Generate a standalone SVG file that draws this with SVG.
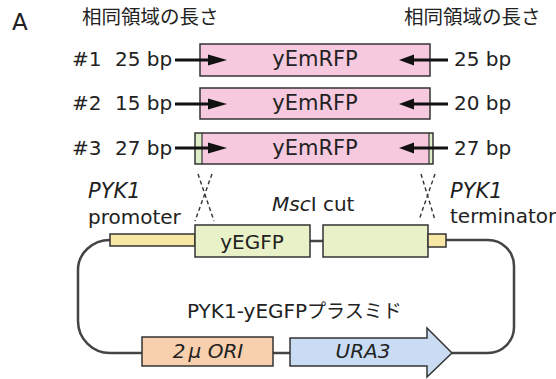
<svg xmlns="http://www.w3.org/2000/svg" width="556" height="379" viewBox="0 0 556 379">
<style>
text{font-family:"DejaVu Sans","Noto Sans CJK JP",sans-serif;fill:#222;font-size:20px}
.jp{font-family:"Noto Sans CJK JP",sans-serif;font-size:19.5px}
.it{font-style:italic}
.box{stroke:#333;stroke-width:1.5}
.pink{fill:#f6c9de}
.green{fill:#dcedc8}
.lgreen{fill:#e8f1c8}
.yellow{fill:#f8e7a4}
.peach{fill:#f9d0ad}
.blue{fill:#c9dcf3}
.arr{stroke:#111;stroke-width:3;fill:none}
.head{fill:#111}
.dash{stroke:#333;stroke-width:1.4;stroke-dasharray:4 3;fill:none}
.bb{stroke:#444;stroke-width:2.5;fill:none}
</style>
<rect width="556" height="379" fill="#fff"/>
<g id="title">
<text x="12" y="30" style="font-size:23px">A</text>
<text class="jp" x="82" y="24">相同領域の長さ</text>
<text class="jp" x="404" y="24">相同領域の長さ</text>
</g>
<g id="row1">
<text x="72" y="66">#1</text>
<text x="115" y="66">25 bp</text>
<rect class="box pink" x="200" y="44" width="230" height="32"/>
<text x="315" y="66" text-anchor="middle" style="font-size:21px">yEmRFP</text>
<text x="454" y="66">25 bp</text>
</g>
<g id="row2">
<text x="72" y="110">#2</text>
<text x="115" y="110">15 bp</text>
<rect class="box pink" x="200" y="88" width="230" height="31"/>
<text x="315" y="110" text-anchor="middle" style="font-size:21px">yEmRFP</text>
<text x="454" y="110">20 bp</text>
</g>
<g id="row3">
<text x="72" y="155">#3</text>
<text x="115" y="155">27 bp</text>
<rect class="green" x="195" y="133" width="7" height="31"/>
<rect class="pink" x="202" y="133" width="227" height="31"/>
<rect class="green" x="429" y="133" width="4" height="31"/>
<rect class="box" fill="none" x="195" y="133" width="238" height="31"/>
<line x1="202" y1="133" x2="202" y2="164" stroke="#333" stroke-width="1.2"/>
<line x1="429" y1="133" x2="429" y2="164" stroke="#333" stroke-width="1.2"/>
<text x="315" y="155" text-anchor="middle" style="font-size:21px">yEmRFP</text>
<text x="454" y="155">27 bp</text>
</g>
<g id="labels">
<text class="it" x="88" y="198" style="font-size:21px">PYK1</text>
<text x="88" y="224">promoter</text>
<text x="272" y="211"><tspan class="it">Msc</tspan>I cut</text>
<text class="it" x="450" y="198" style="font-size:21px">PYK1</text>
<text x="450" y="223">terminator</text>
<text x="187" y="318" style="font-size:20px">PYK1-yEGFP<tspan style="font-family:'Noto Sans CJK JP',sans-serif;font-size:19px">プラスミド</tspan></text>
</g>
<g id="connectors">
<path class="bb" d="M110,240 A32,30 0 0 0 78,270 V321 A32,32 0 0 0 110,353 H142"/>
<path class="bb" d="M446,240 H488 A26,26 0 0 1 514,266 V327 A26,26 0 0 1 488,353 H452"/>
<line class="bb" x1="310" y1="241" x2="323" y2="241"/>
<line class="bb" x1="273" y1="353" x2="290" y2="353"/>
<line class="dash" x1="198" y1="174" x2="214" y2="221"/>
<line class="dash" x1="212" y1="174" x2="195" y2="221"/>
<line class="dash" x1="421" y1="174" x2="435" y2="220"/>
<line class="dash" x1="435" y1="174" x2="419" y2="220"/>
<line class="arr" x1="175" y1="60" x2="210" y2="60"/>
<polygon class="head" points="208,54.5 227,60 208,65.5"/>
<line class="arr" x1="412" y1="60" x2="448" y2="60"/>
<polygon class="head" points="414,54.5 399,60 414,65.5"/>
<line class="arr" x1="175" y1="104" x2="210" y2="104"/>
<polygon class="head" points="208,98.5 227,104 208,109.5"/>
<line class="arr" x1="412" y1="104" x2="448" y2="104"/>
<polygon class="head" points="414,98.5 399,104 414,109.5"/>
<line class="arr" x1="175" y1="148" x2="210" y2="148"/>
<polygon class="head" points="208,142.5 227,148 208,153.5"/>
<line class="arr" x1="412" y1="148" x2="448" y2="148"/>
<polygon class="head" points="414,142.5 399,148 414,153.5"/>
</g>
<g id="promoter"><rect class="box yellow" x="110" y="234" width="85" height="12"/></g>
<g id="yEGFP">
<rect class="box lgreen" x="195" y="225" width="115" height="32"/>
<text x="252" y="249" text-anchor="middle">yEGFP</text>
</g>
<g id="yEGFP2"><rect class="box lgreen" x="323" y="225" width="105" height="32"/></g>
<g id="terminator"><rect class="box yellow" x="428" y="234" width="18" height="13"/></g>
<g id="ori">
<rect class="box peach" x="142" y="337" width="131" height="29"/>
<text class="it" x="208" y="358" text-anchor="middle">2<tspan dx="3">μ</tspan> ORI</text>
</g>
<g id="ura3">
<polygon class="box blue" points="290,338 427,338 427,328 452,353 427,377 427,366 290,366"/>
<text class="it" x="363" y="358" text-anchor="middle">URA3</text>
</g>
</svg>
